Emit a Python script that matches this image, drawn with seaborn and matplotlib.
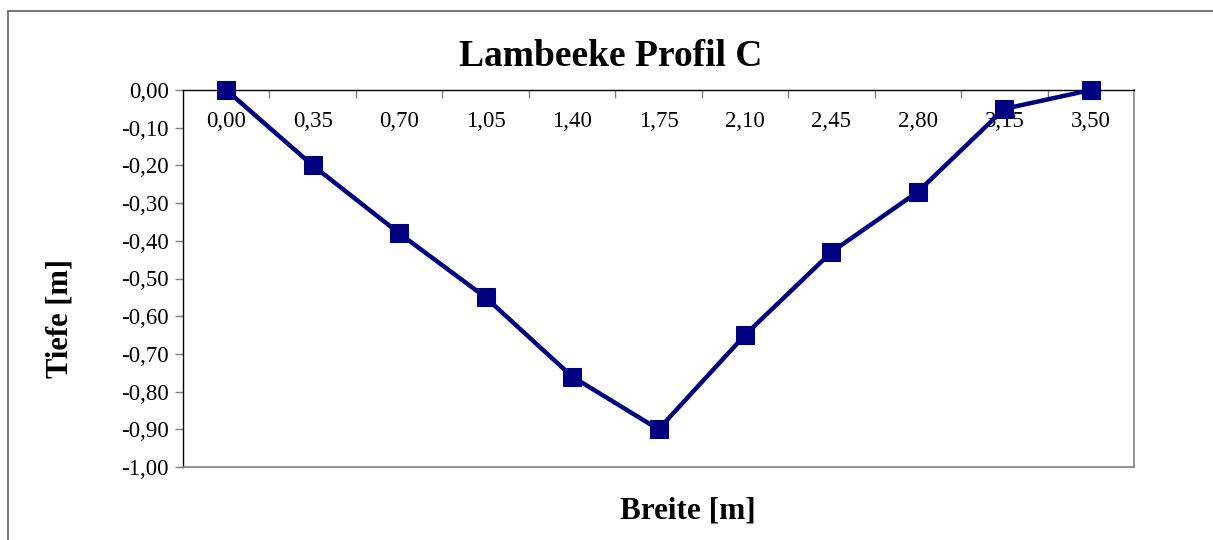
import numpy as np
import pandas as pd
import seaborn as sns
import matplotlib.pyplot as plt
from matplotlib.patches import Rectangle
from matplotlib.ticker import FuncFormatter, FixedLocator

# Daten Profil C
breite = ['0,00', '0,35', '0,70', '1,05', '1,40', '1,75', '2,10', '2,45', '2,80', '3,15', '3,50']
tiefe = [0.00, -0.20, -0.38, -0.55, -0.76, -0.90, -0.65, -0.43, -0.27, -0.05, 0.00]

df = pd.DataFrame({'pos': np.arange(len(breite)), 'tiefe': tiefe})

sns.set_style('white')
plt.rcParams['font.family'] = ['Liberation Serif', 'DejaVu Serif']
plt.rcParams['text.color'] = 'black'
plt.rcParams['xtick.color'] = 'black'
plt.rcParams['ytick.color'] = 'black'

fig = plt.figure(figsize=(12.13, 5.4), dpi=100)
ax = fig.add_axes([183 / 1213, 1 - 467 / 540, (1134 - 183) / 1213, (467 - 90) / 540])

sns.lineplot(data=df, x='pos', y='tiefe', ax=ax, color='#000080', linewidth=3.2,
             marker='s', markersize=12.5, markeredgecolor='#000080', clip_on=False, zorder=5)

ax.set_xlim(-0.5, len(breite) - 0.5)
ax.set_ylim(-1.0, 0.0)
ax.set_yticks(np.arange(-1.0, 0.01, 0.1))
ax.yaxis.set_major_formatter(FuncFormatter(lambda v, p: f'{v:.2f}'.replace('.', ',').replace('-0,00', '0,00')))

# Kategorie-Achse oben (bei y=0)
ax.xaxis.tick_top()
ax.set_xticks(df['pos'])
ax.set_xticklabels(breite)
ax.xaxis.set_minor_locator(FixedLocator(np.arange(0.5, len(breite) - 1, 1.0)))
ax.tick_params(axis='x', which='major', length=0, pad=-30, labelsize=16.5)
ax.tick_params(axis='x', which='minor', top=True, bottom=False, direction='in', length=6, color='#808080', width=1)
ax.tick_params(axis='y', left=True, direction='out', length=6, width=1, color='#808080', labelsize=16.5, pad=4)

for s in ['top', 'left']:
    ax.spines[s].set_color('black')
    ax.spines[s].set_linewidth(1)
for s in ['right', 'bottom']:
    ax.spines[s].set_color('#808080')
    ax.spines[s].set_linewidth(1.2)

ax.set_xlabel('')
ax.set_ylabel('')
fig.text(611 / 1213, 1 - 57 / 540, 'Lambeeke Profil C', ha='center', va='center', fontsize=27, fontweight='bold')
fig.text(688 / 1213, 1 - 511 / 540, 'Breite [m]', ha='center', va='center', fontsize=22.5, fontweight='bold')
fig.text(60 / 1213, 1 - 318 / 540, 'Tiefe [m]', ha='center', va='center', rotation=90, fontsize=22, fontweight='bold')

# Rahmen des Diagrammbereichs
fig.patches.append(Rectangle((8 / 1213, -0.1), 1.2, 1.1 - 11 / 540, transform=fig.transFigure,
                             fill=False, edgecolor='#606060', linewidth=1.2))

fig.savefig('out.png', dpi=100)
